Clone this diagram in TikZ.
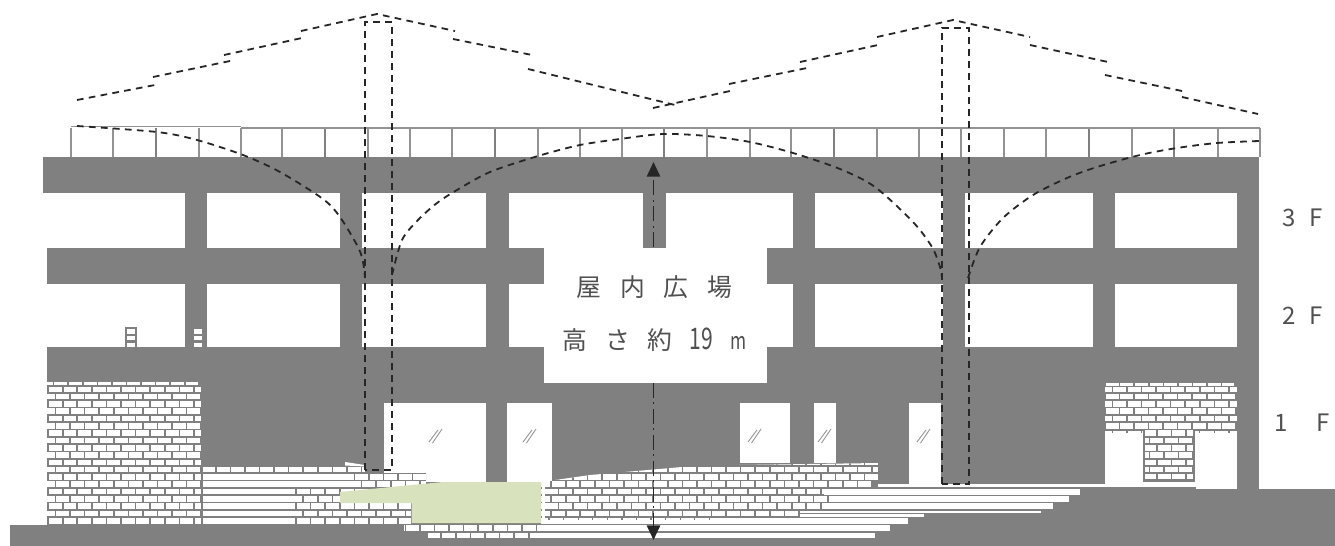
\documentclass[tikz,border=0pt]{standalone}
\usepackage{fontspec}
\usepackage{graphicx}
\usetikzlibrary{arrows.meta}
\newfontfamily\cjk{Noto Sans CJK JP}
\definecolor{wall}{HTML}{808080}
\definecolor{lawn}{HTML}{D8E2BC}
\definecolor{ink}{HTML}{505050}
\tikzset{
  solidwall/.style={fill=wall},
  blank/.style={fill=white},
  panel/.style={draw=wall!85!white,line width=1.1pt},
  panelthick/.style={draw=wall,line width=2pt},
  hidden/.style={draw=black!85,line width=1.35pt,dash pattern=on 5pt off 4pt},
  glass/.style={draw=black!40,line width=.7pt},
  height line/.style={draw=black!85,line width=1.35pt,dash pattern=on 11pt off 3.5pt on 1.5pt off 3.5pt,
    -{Triangle[length=11pt,width=10pt]}},
  label/.style={inner sep=0pt,text=ink,font=\cjk\fontsize{18.6}{18}\selectfont},
  floorlabel/.style={inner sep=0pt,text=ink,font=\cjk\fontsize{18}{18}\selectfont},
}
% a course of bricks: #1 left, #2 right, #3 centre height, #4 origin of the joints
\newcommand{\brow}[4]{%
  \begin{scope}
    \clip ({#1},{#3-2.8}) rectangle ({#2},{#3+2.8});
    \fill[white] ({#1},{#3-2.8}) rectangle ({#2},{#3+2.8});
    \pgfmathtruncatemacro{\kfirst}{floor((#1-#4)/14.58)}
    \pgfmathtruncatemacro{\klast}{ceil((#2-#4)/14.58)}
    \foreach \k in {\kfirst,...,\klast}
      {\draw[wall,line width=1.2pt] ({#4+\k*14.58},{#3-3}) -- ({#4+\k*14.58},{#3+3});}
  \end{scope}}
\newcommand{\stripe}[3]{\fill[white] ({#1},{#3-2.8}) rectangle ({#2},{#3+2.8});}
\def\oA{62.7}
\def\oB{55.4}
\begin{document}
\begin{tikzpicture}[x=0.75pt,y=-0.75pt]
\useasboundingbox (0,0) rectangle (1335,546);
\fill[white] (0,0) rectangle (1335,546);

% roof panels
\foreach \xa in {71,113,199,241,282,368,410,452,538,580,622,707,750,791,877,919,961,1004,1046,1132,1218,1260}
  {\draw[panel] (\xa,128) -- (\xa,157);}
\foreach \xa in {156,325,495,664,834,1089,1174}
  {\draw[panelthick] (\xa,128) -- (\xa,157);}
\draw[panel] (71,126.5) -- (241,126.5);
\draw[panel] (241,128) -- (1260,128);

% structure
\fill[solidwall] (43,157) rectangle (1259,193);
\fill[solidwall] (47,193) rectangle (1259,525);
\fill[solidwall] (1259,489) rectangle (1335,546);
\fill[solidwall] (10,525) rectangle (1335,546);

% storey openings
\fill[blank] (40,193) rectangle (185,248);
\fill[blank] (40,284) rectangle (185,347);
\foreach \xa/\xb in {207/340,362/486,815/943,965/1093,1115/1237}{
  \fill[blank] (\xa,193) rectangle (\xb,248);
  \fill[blank] (\xa,284) rectangle (\xb,347);
}
\fill[blank] (509,193) rectangle (793,248);
\fill[blank] (544,248) rectangle (767,284);
\fill[blank] (509,284) rectangle (793,347);
\fill[blank] (544,347) rectangle (767,383);
\fill[solidwall] (643,193) rectangle (666,248);

% little window marks
\fill[solidwall] (125,327) rectangle (137,347);
\foreach \ya/\yb in {329/334,335.5/340,343/347}{
  \fill[blank] (127,\ya) rectangle (135,\yb);
  \fill[blank] (194,\ya) rectangle (201.5,\yb);
}

% ground floor openings
\fill[blank] (384,403) rectangle (486,473);
\fill[blank] (426,473) rectangle (486,482);
\fill[blank] (507,403) rectangle (552,482);
\fill[blank] (739.5,403) rectangle (790,463);
\fill[blank] (814,403) rectangle (836,463);
\fill[blank] (909,403) rectangle (941,484);
\foreach \gx in {429,523,748,818,917}{
  \draw[glass] (\gx,442) -- (\gx+9,430);
  \draw[glass] (\gx+3.5,443) -- (\gx+13,429);
}

% left brick block
\fill[white] (47,381.7) rectangle (198,385);
\foreach \k in {0,...,10}
  {\draw[wall,line width=1.2pt] ({53.6+14.58*\k},381) -- ({53.6+14.58*\k},386);}
\foreach \yy/\oo in {389.3/\oA,396.6/\oB,403.9/\oA,411.2/\oB,418.5/\oA,425.8/\oB,433.1/\oA,440.4/\oB,447.7/\oA,455/\oB,462.3/\oA,469.6/\oB,476.9/\oA,484.2/\oB,491.5/\oA,498.8/\oB,506.1/\oA,513.4/\oB,520.7/\oA}
  {\brow{47}{201}{\yy}{\oo}}

% lower left courses
\brow{203}{365}{469.6}{\oB}
\fill[white] (345,462) -- (365,465) -- (365,466.5) -- (345,465.5) -- cycle;
\fill[solidwall] (384,473) rectangle (426,525);
\brow{353}{426}{476.9}{\oA}\stripe{203}{353}{476.9}
\brow{360}{426}{484.2}{\oB}\stripe{203}{360}{484.2}
\brow{295}{411}{491.5}{\oA}\stripe{203}{295}{491.5}
\brow{302}{411}{498.8}{\oB}\stripe{203}{302}{498.8}
\brow{295}{411}{506.1}{\oA}\stripe{203}{295}{506.1}
\brow{302}{411}{513.4}{\oB}\stripe{203}{302}{513.4}
\brow{295}{411}{520.7}{\oA}\stripe{203}{295}{520.7}
\brow{404}{541}{528}{405.3}
\brow{426}{541}{535.3}{426.7}

% courses under the central slope
\begin{scope}
  \clip (541,482) -- (590,475) -- (641,470.6) -- (682,467) -- (739,465) -- (878,463) -- (878,545) -- (541,545) -- cycle;
  \brow{541}{878}{462.3}{\oA}
  \brow{541}{878}{469.6}{\oB}
  \brow{541}{878}{476.9}{\oA}
  \brow{541}{872}{484.2}{\oB}
  \brow{541}{824}{491.5}{\oA}
  \brow{541}{829}{498.8}{\oB}
  \brow{541}{822}{506.1}{\oA}
  \brow{541}{800}{513.4}{\oB}
\end{scope}
% long treads
\fill[white] (878,484) rectangle (1197,487);
\stripe{824}{1080}{491.9}
\stripe{829}{1069}{499}
\stripe{822}{1053}{505.8}
\fill[white] (800,510.5) rectangle (1041,513);
\fill[white] (800,514.4) rectangle (924,517.4);
\stripe{541}{908}{521}
\stripe{541}{890}{528}
\stripe{541}{875}{535.3}
\foreach \k in {0,...,11}
  {\draw[wall,line width=1pt] ({549+14.58*\k},517.6) -- ({549+14.58*\k},520);}
\fill[white] (541.5,482) rectangle (545,524);

% right brick block and doors
\fill[white] (1105,431) rectangle (1196,484);
\fill[white] (1196,431) rectangle (1237,489);
\fill[white] (1105,382.5) rectangle (1234,385.5);
\foreach \k in {0,...,9}
  {\draw[wall,line width=1.2pt] ({1105+14.58*\k},382) -- ({1105+14.58*\k},386);}
\foreach \yy/\oo in {389.3/1112.3,396.6/1119.3,403.9/1112.3,411.2/1119.3,418.5/1112.3,425.8/1119.3}
  {\brow{1105}{1237}{\yy}{\oo}}
\foreach \k in {0,...,9}
  {\draw[wall,line width=1pt] ({1112.3+14.58*\k},430) -- ({1112.3+14.58*\k},433);}
\fill[solidwall] (1143,429) rectangle (1195,481.5);
\foreach \yy/\oo in {433/1156.8,440.5/1149.5,447.8/1156.8,455/1149.5,462.3/1156.8,469.6/1149.5,476.6/1156.8}
  {\brow{1145}{1193}{\yy}{\oo}}

% green patch
\fill[lawn] (340,492) -- (443,482) -- (541,482) -- (541,523) -- (411.5,523) -- (411.5,503) -- (340,503) -- cycle;

% outer roof
\draw[hidden] (77,100) -- (155,85);
\draw[hidden] (153,77) -- (230,61);
\draw[hidden] (224,55) -- (302,38);
\draw[hidden] (301,31) -- (377,14) -- (455,31);
\draw[hidden] (453,39) -- (532,55);
\draw[hidden] (528,69) -- (675,105);
\draw[hidden] (653,108) -- (730,91);
\draw[hidden] (729,84) -- (807,68);
\draw[hidden] (800,62) -- (878,45);
\draw[hidden] (877,37) -- (953,20) -- (1030,37);
\draw[hidden] (1030,45) -- (1108,62);
\draw[hidden] (1105,75) -- (1182,91);
\draw[hidden] (1182,97) -- (1258,114);

% inner vault
\draw[hidden] plot[smooth] coordinates {(77,126) (157,132) (197,140) (243,155) (280,172) (323,199) (340,217) (358,247) (363,262) (365,278)};
\draw[hidden] plot[smooth] coordinates {(392,275) (402,240) (418,220) (437,203) (457,190) (490,172) (538,156) (580,145) (620,139) (663,134) (707,136) (750,142) (793,153) (840,169) (875,187) (913,222) (932,247) (940,267) (942,278)};
\draw[hidden] plot[smooth] coordinates {(968,278) (980,247) (1003,218) (1033,195) (1067,178) (1097,167) (1140,155) (1177,148) (1217,143) (1259,141)};

% column outlines
\draw[hidden] (365,470) -- (365,22) -- (392,22) -- (392,470) -- cycle;
\draw[hidden] (942,484) -- (942,28) -- (969,28) -- (969,484) -- cycle;

% height arrow
\coordinate (upfoot) at (653.5,247);
\coordinate (uptip) at (653.5,162);
\coordinate (downfoot) at (653.5,383);
\coordinate (downtip) at (653.5,540);
\draw[height line] (upfoot) -- (uptip);
\draw[height line] (downfoot) -- (downtip);

% texts
\node[label] (hall) at (654.5,287) {\spaceskip=14.2pt 屋 内 広 場};
\node[label] (height) at (654.5,340) {\spaceskip=13pt 高 さ 約 \scalebox{.85}[1.2]{19} \scalebox{.7}[.95]{m}};
\node[floorlabel] (f3) at (1302.5,218) {\spaceskip=10pt 3 F};
\node[floorlabel] (f2) at (1302.5,316) {\spaceskip=10pt 2 F};
\node[floorlabel] (f1) at (1302,423) {\spaceskip=21pt 1 F};
\end{tikzpicture}
\end{document}
